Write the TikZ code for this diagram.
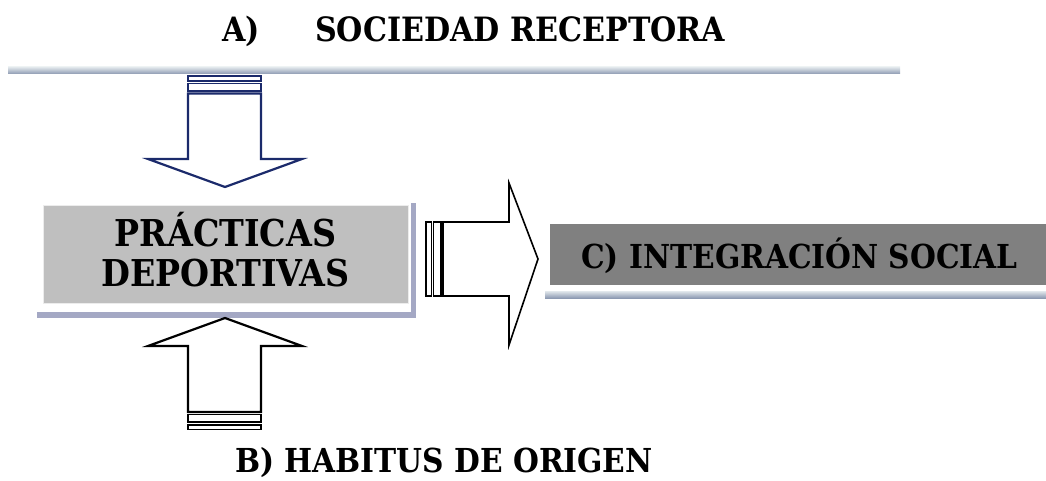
\documentclass[tikz,border=0pt]{standalone}
\usepackage{fontspec}
\setmainfont{DejaVu Serif Condensed}
\usetikzlibrary{positioning}
\definecolor{navy}{HTML}{1B2A6B}
\definecolor{barblue}{HTML}{8D9AB2}
\definecolor{barlight}{HTML}{E2E8EC}
\definecolor{lavbar}{HTML}{A4A8C4}

\begin{document}
\begin{tikzpicture}[x=1pt,y=-1pt,
    titletext/.style={inner sep=0pt, anchor=base west, font=\fontsize{33.5}{36}\selectfont\bfseries},
    boxtext/.style={inner sep=0pt, font=\fontsize{37}{40}\selectfont\bfseries, align=center},
    outline/.style={line width=2.2pt, fill=white, line join=miter},
    thinbar/.style={line width=1.5pt, fill=white}]
        \useasboundingbox (0,0) rectangle (1046,481);
        % titulos
        \node [titletext] (ta) at (222,42) {A)};
        \node [titletext] (tsoc) at (315,42) {SOCIEDAD RECEPTORA};
        \node [titletext, font=\fontsize{33}{36}\selectfont\bfseries] (thab) at (235,472) {B) HABITUS DE ORIGEN};
        % barra superior
        \shade [top color=barlight, bottom color=barblue] (8,67) rectangle (900,74);
        % flecha de arriba
        \draw [thinbar, draw=navy] (188,76) rectangle (261,81);
        \draw [thinbar, draw=navy] (188,83.5) rectangle (261,91);
        \draw [outline, draw=navy] (188,93.5) -- (261,93.5) -- (261,159) -- (302,159) -- (225,187) -- (148,159) -- (188,159) -- cycle;
        % caja practicas
        \fill [lavbar] (37,312) rectangle (416,318);
        \fill [lavbar] (411,203) rectangle (416,318);
        \draw [draw=white!85!gray, fill=white!75!black] (43,205) rectangle (408,303);
        \node [boxtext] (prac) at (225.5,250) {PRÁCTICAS\\DEPORTIVAS};
        % flecha de abajo
        \draw [outline] (188,412) -- (261,412) -- (261,346) -- (302,346) -- (225,318) -- (148,346) -- (188,346) -- cycle;
        \draw [thinbar] (188,414.5) rectangle (261,422);
        \draw [thinbar] (188,425) rectangle (261,429.5);
        % flecha a la derecha
        \draw [thinbar] (426,222) rectangle (431.5,296);
        \draw [thinbar] (433.5,222) rectangle (441,296);
        \draw [outline, line width=1.6pt] (443,222) -- (509,222) -- (509,183) -- (538,259) -- (509,345) -- (509,296) -- (443,296) -- cycle;
        % caja integracion
        \shade [top color=barlight, bottom color=barblue] (545,291) rectangle (1046,298);
        \fill [white!50!black] (550,224) rectangle (1046,285);
        \node [boxtext, font=\fontsize{33}{40}\selectfont\bfseries] (integ) at (799.5,256) {C) INTEGRACIÓN SOCIAL};
    \end{tikzpicture}
\end{document}
